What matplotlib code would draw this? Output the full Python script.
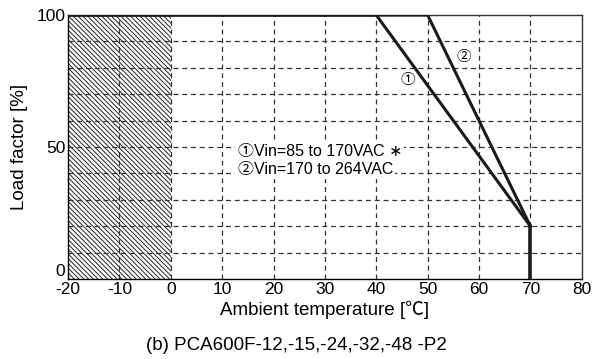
import matplotlib.pyplot as plt

plt.rcParams['font.family'] = ['Liberation Sans', 'Noto Sans CJK JP', 'DejaVu Sans']
plt.rcParams['hatch.linewidth'] = 0.7
plt.rcParams['axes.unicode_minus'] = False

# derating curves (temperature, load %)
temp_1 = [-20, 40, 70]
load_1 = [100, 100, 20]
temp_2 = [-20, 50, 70]
load_2 = [100, 100, 20]
temp_cut = [70, 70]
load_cut = [20, 0]

xticks = [-20, -10, 0, 10, 20, 30, 40, 50, 60, 70, 80]
yticks = [0, 50, 100]

fig = plt.figure(figsize=(5.93, 3.59), dpi=100)
ax = fig.add_axes([0.1147, 0.223, 0.8663, 0.735])

ax.set_xlim(-20, 80)
ax.set_ylim(0, 100)

# hatched region below 0 degC
ax.fill_between([-20, 0], 0, 100, facecolor='white', edgecolor='#222222',
                hatch='\\' * 7, linewidth=0, zorder=1)

for x in range(-10, 80, 10):
    ax.axvline(x, color='#333333', ls=(0, (4, 3)), lw=0.9, zorder=2)
for y in range(10, 100, 10):
    ax.axhline(y, color='#333333', ls=(0, (4, 3)), lw=0.9, zorder=2)

ax.plot(temp_1, load_1, color='#1a1a1a', lw=2.2, zorder=3, solid_joinstyle='miter')
ax.plot(temp_2, load_2, color='#1a1a1a', lw=2.2, zorder=3, solid_joinstyle='miter')
ax.plot(temp_cut, load_cut, color='#1a1a1a', lw=2.6, zorder=3)

box = dict(facecolor='white', edgecolor='none', pad=0.5)
ax.text(46.2, 75.5, '①', fontsize=10.5, ha='center', va='center', bbox=box, zorder=2.5)
ax.text(57, 84, '②', fontsize=10.5, ha='center', va='center', bbox=box, zorder=2.5)
box2 = dict(facecolor='white', edgecolor='none', pad=1.5)
ax.text(13, 48.2, '①Vin=85 to 170VAC ∗', fontsize=11.5, ha='left', va='center',
        bbox=box2, zorder=4)
ax.text(13, 41.5, '②Vin=170 to 264VAC', fontsize=11.5, ha='left', va='center',
        bbox=box2, zorder=4)

ax.set_xticks(xticks)
ax.set_yticks(yticks)
ax.tick_params(length=0, labelsize=12.5, pad=2)
ax.get_yticklabels()[0].set_va('bottom')
for s in ax.spines.values():
    s.set_color('#333333')
    s.set_linewidth(1.0)
ax.spines['left'].set_color('black')
ax.spines['bottom'].set_color('black')

ax.set_xlabel('Ambient temperature [℃]', fontsize=13.5, labelpad=3)
ax.set_ylabel('Load factor [%]', fontsize=13.5, labelpad=6)
fig.text(0.5, 0.025, '(b) PCA600F-12,-15,-24,-32,-48 -P2', ha='center', fontsize=13.5)

fig.savefig('out.png', dpi=100)
